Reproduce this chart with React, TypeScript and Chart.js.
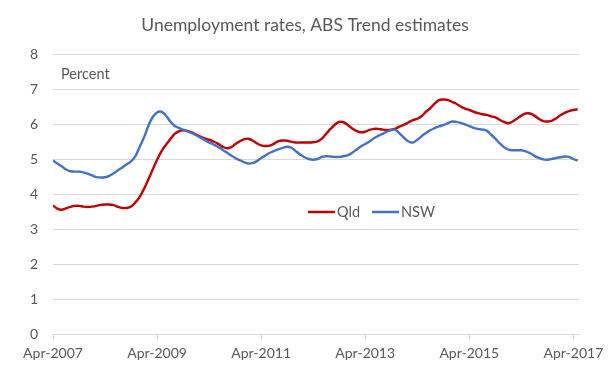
import React, { useEffect, useRef } from "react";
import { Chart, registerables } from "chart.js";

Chart.register(...registerables);

const TITLE = "Unemployment rates, ABS Trend estimates";
const Y_LABEL = "Percent";
const SERIES_NAMES = ["Qld", "NSW"];
const SERIES_COLORS = ["#C00000", "#4472C4"];
const START_YEAR = 2007;
const START_MONTH_NAME = "Apr";
const X_TICK_MONTHS = [0, 24, 48, 72, 96, 120];
const Y_TICKS = [0, 1, 2, 3, 4, 5, 6, 7, 8];

// Monthly trend unemployment rate, Apr-2007 to May-2017
const qld = [
  3.67, 3.58, 3.55, 3.59, 3.63, 3.66, 3.66, 3.64, 3.63, 3.64, 3.66, 3.69,
  3.7, 3.7, 3.68, 3.63, 3.6, 3.6, 3.64, 3.76, 3.92, 4.15, 4.42, 4.7,
  4.98, 5.22, 5.4, 5.56, 5.71, 5.79, 5.82, 5.8, 5.76, 5.7, 5.64, 5.59,
  5.55, 5.5, 5.44, 5.36, 5.31, 5.33, 5.42, 5.5, 5.56, 5.58, 5.53, 5.45,
  5.39, 5.37, 5.38, 5.44, 5.51, 5.53, 5.52, 5.49, 5.47, 5.47, 5.47, 5.47,
  5.48, 5.5, 5.58, 5.72, 5.86, 5.98, 6.06, 6.05, 5.97, 5.87, 5.8, 5.76,
  5.78, 5.83, 5.86, 5.86, 5.84, 5.83, 5.84, 5.87, 5.93, 5.98, 6.05, 6.11,
  6.15, 6.22, 6.35, 6.45, 6.58, 6.68, 6.7, 6.69, 6.63, 6.58, 6.5, 6.44,
  6.4, 6.35, 6.31, 6.28, 6.26, 6.22, 6.19, 6.12, 6.06, 6.02, 6.07, 6.15,
  6.24, 6.3, 6.3, 6.24, 6.15, 6.08, 6.07, 6.09, 6.16, 6.25, 6.32, 6.37,
  6.4, 6.42,
];

const nsw = [
  4.96, 4.87, 4.79, 4.7, 4.65, 4.64, 4.64, 4.62, 4.58, 4.53, 4.48, 4.47,
  4.48, 4.52, 4.59, 4.68, 4.76, 4.85, 4.93, 5.08, 5.35, 5.62, 5.95, 6.2,
  6.33, 6.35, 6.25, 6.08, 5.95, 5.89, 5.84, 5.79, 5.74, 5.68, 5.61, 5.54,
  5.47, 5.42, 5.35, 5.27, 5.19, 5.11, 5.03, 4.97, 4.91, 4.87, 4.88, 4.94,
  5.03, 5.1, 5.18, 5.23, 5.28, 5.32, 5.35, 5.32, 5.22, 5.13, 5.05, 5.0,
  4.98, 5.0, 5.06, 5.08, 5.07, 5.06, 5.06, 5.08, 5.11, 5.18, 5.27, 5.36,
  5.43, 5.5, 5.59, 5.66, 5.72, 5.78, 5.83, 5.83, 5.72, 5.6, 5.5, 5.47,
  5.55, 5.65, 5.74, 5.82, 5.88, 5.93, 5.97, 6.02, 6.07, 6.06, 6.03, 5.99,
  5.94, 5.89, 5.86, 5.84, 5.81, 5.7, 5.58, 5.45, 5.34, 5.27, 5.25, 5.25,
  5.25, 5.22, 5.17, 5.09, 5.03, 4.99, 4.98, 5.0, 5.03, 5.05, 5.07, 5.06,
  5.0, 4.95,
];

const FONT = "Lato, 'Open Sans', sans-serif";
const TEXT_COLOR = "#595959";
const GRID_COLOR = "#d9d9d9";

const overlayPlugin = {
  id: "overlay",
  afterDraw(chart: any) {
    const ctx = chart.ctx;
    const area = chart.chartArea;
    ctx.save();
    // title
    ctx.fillStyle = TEXT_COLOR;
    ctx.font = `17.5px ${FONT}`;
    ctx.textAlign = "center";
    ctx.textBaseline = "alphabetic";
    ctx.fillText(TITLE, 305, 31);
    // percent label
    ctx.font = `14.5px ${FONT}`;
    ctx.textAlign = "left";
    ctx.fillText(Y_LABEL, area.left + 8, 78.5);
    // legend
    const y = 212;
    let x = 308;
    chart.data.datasets.forEach((ds: any) => {
      ctx.strokeStyle = ds.borderColor;
      ctx.lineWidth = 2.5;
      ctx.beginPath();
      ctx.moveTo(x, y);
      ctx.lineTo(x + 27, y);
      ctx.stroke();
      ctx.fillStyle = TEXT_COLOR;
      ctx.font = `14.5px ${FONT}`;
      ctx.textAlign = "left";
      ctx.textBaseline = "middle";
      ctx.fillText(ds.label, x + 29, y);
      x += 29 + ctx.measureText(ds.label).width + 12;
    });
    ctx.restore();
  },
};

export default function App() {
  const ref = useRef<HTMLCanvasElement | null>(null);

  useEffect(() => {
    if (!ref.current) return;
    const monthIndex = qld.map((_, i) => i);
    const series = [qld, nsw];
    const chart = new Chart(ref.current, {
      type: "line",
      data: {
        datasets: series.map((vals, k) => ({
          label: SERIES_NAMES[k],
          data: vals.map((v, i) => ({ x: monthIndex[i], y: v })),
          borderColor: SERIES_COLORS[k],
          backgroundColor: SERIES_COLORS[k],
          borderWidth: 2.4,
          pointRadius: 0,
          tension: 0.35,
          fill: false,
          order: 1 - k,
        })),
      },
      options: {
        animation: false,
        responsive: false,
        maintainAspectRatio: false,
        layout: { padding: { top: 54, left: 0, right: 34, bottom: 6 } },
        plugins: {
          legend: { display: false },
          title: { display: false },
          tooltip: { enabled: false },
        },
        scales: {
          x: {
            type: "linear",
            min: 0,
            max: 121.3,
            afterBuildTicks(scale: any) {
              scale.ticks = X_TICK_MONTHS.map((v) => ({ value: v }));
            },
            afterFit(scale: any) {
              scale.height = 40;
            },
            ticks: {
              autoSkip: false,
              maxRotation: 0,
              padding: 6,
              color: TEXT_COLOR,
              font: { family: FONT, size: 14 },
              callback: (v: any) =>
                `${START_MONTH_NAME}-${START_YEAR + Math.round(Number(v) / 12)}`,
            },
            grid: {
              drawOnChartArea: false,
              drawTicks: true,
              tickLength: 5,
              color: GRID_COLOR,
            },
            border: { display: true, color: GRID_COLOR, width: 1 },
          },
          y: {
            min: 0,
            max: 8,
            afterBuildTicks(scale: any) {
              scale.ticks = Y_TICKS.map((v) => ({ value: v }));
            },
            afterFit(scale: any) {
              scale.width = 53;
            },
            ticks: {
              padding: 15,
              color: TEXT_COLOR,
              font: { family: FONT, size: 14 },
            },
            grid: { color: GRID_COLOR, drawTicks: false, lineWidth: 1 },
            border: { display: false },
          },
        },
      },
      plugins: [overlayPlugin],
    });
    return () => chart.destroy();
  }, []);

  return (
    <div style={{ position: "fixed", left: 0, top: 0, width: 613, height: 380, background: "#fff" }}>
      <canvas ref={ref} width={613} height={380} style={{ width: 613, height: 380 }} />
    </div>
  );
}
